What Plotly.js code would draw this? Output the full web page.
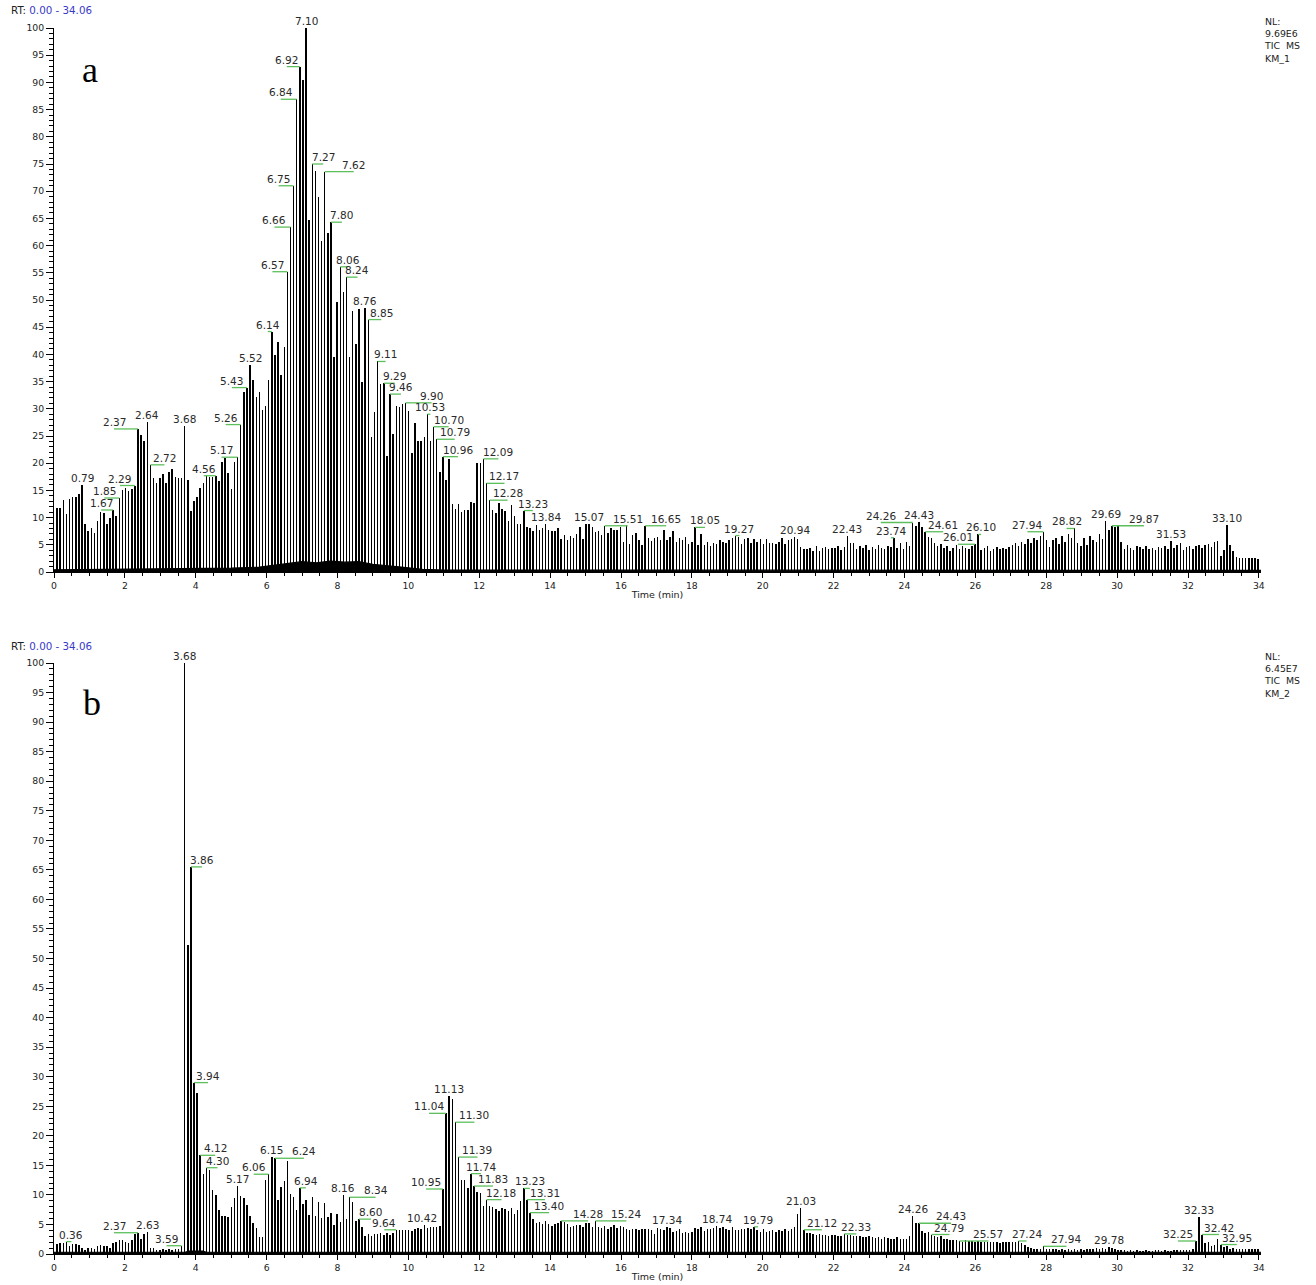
<!DOCTYPE html>
<html>
<head>
<meta charset="utf-8">
<script src="https://cdn.plot.ly/plotly-3.0.1.min.js"></script>
<style>html,body{margin:0;padding:0;background:#fff;}#chart{width:1316px;height:1285px;}</style>
</head>
<body>
<div id="chart"></div>
<script>
// ---------------- DATA ----------------
// Scan interval of the MS acquisition (min); scan k is acquired at k * SCAN_INTERVAL
const SCAN_INTERVAL = 0.0878;

// Relative abundance (%) of each scan, sample KM_1 (panel a)
const intensityA = [
 11.8,11.8,13.3,10.7,13.5,13.8,13.8,14.3,16.0,8.8,
 7.5,8.0,7.2,9.4,11.1,10.8,8.9,9.9,11.4,10.3,
 13.6,15.1,15.5,14.8,15.3,15.9,26.3,25.2,24.0,27.6,
 19.7,17.3,16.4,17.3,18.0,16.4,18.4,18.9,17.4,17.3,
 17.3,26.9,17.0,11.2,13.1,13.7,15.5,16.4,17.6,17.5,
 17.5,17.7,16.7,20.2,20.9,18.2,15.3,20.2,21.1,27.1,
 33.1,33.9,38.1,35.3,32.1,33.1,29.7,30.5,35.3,44.2,
 39.9,42.3,36.2,41.4,55.2,63.4,71.0,86.9,92.9,90.4,
 100,64.7,75.0,73.8,69.0,60.9,73.6,62.3,64.3,39.5,
 49.6,56.1,51.4,54.2,39.5,48.0,42.0,48.3,35.0,48.5,
 46.4,24.8,29.5,38.7,34.6,34.7,21.3,32.7,25.4,30.5,
 30.4,30.8,31.1,29.6,21.8,27.3,24.0,24.1,24.8,29.0,
 24.1,26.7,24.4,18.3,21.2,16.9,20.8,12.5,11.5,12.5,
 11.1,11.4,11.4,12.9,12.7,20.0,20.1,20.8,16.3,13.2,
 11.4,10.8,12.6,11.6,11.3,9.4,12.4,10.3,8.9,8.9,
 11.3,8.2,8.0,7.6,8.6,7.8,8.0,8.9,7.7,7.6,
 7.6,8.0,6.0,6.8,5.9,6.6,6.2,7.0,8.3,6.0,
 8.8,8.8,8.3,7.4,7.6,6.8,8.5,7.1,8.0,7.8,
 7.7,8.2,5.6,8.6,5.2,6.8,7.2,5.9,4.9,8.5,
 6.3,5.7,6.2,6.4,5.8,7.7,5.9,6.4,7.6,5.5,
 6.2,5.8,6.5,5.1,5.6,8.2,5.0,6.9,5.0,5.5,
 4.8,5.3,5.2,5.9,5.6,5.4,5.9,6.2,6.7,6.4,
 5.2,6.1,6.3,5.4,6.0,5.6,6.1,5.2,6.0,5.3,
 5.4,5.2,5.6,6.2,5.1,5.8,6.1,6.5,6.0,4.6,
 4.3,4.2,4.5,3.9,4.7,3.8,4.4,4.6,4.2,4.5,
 4.4,4.8,4.0,4.6,6.6,5.3,5.3,4.2,4.8,4.5,
 5.0,4.1,4.6,4.3,5.0,4.4,4.2,4.8,4.6,6.3,
 4.5,5.4,4.3,5.5,4.8,9.1,8.4,9.2,8.3,7.4,
 6.4,6.2,5.4,4.7,5.2,4.4,4.8,3.9,4.5,4.9,
 4.2,4.7,4.5,4.3,4.7,5.1,6.9,4.0,4.4,4.8,
 3.9,4.3,4.6,4.2,4.4,4.3,4.6,4.9,5.3,4.8,
 5.6,5.1,6.1,5.4,6.3,5.8,6.6,7.4,5.9,4.6,
 5.8,6.3,5.1,6.6,5.6,7.0,6.2,8.0,5.4,4.7,
 6.2,5.0,6.6,5.9,5.5,6.9,6.1,9.4,7.8,8.5,
 8.3,8.5,5.6,4.3,4.9,4.4,4.1,4.7,4.6,4.2,
 4.7,4.3,4.5,4.1,4.6,4.5,4.7,4.2,5.7,4.4,
 4.9,5.3,4.1,4.6,4.8,4.2,4.7,5.0,4.4,5.0,
 5.2,4.6,5.5,5.7,3.0,4.0,8.7,5.0,3.9,2.7,
 2.6,2.6,2.5,2.6,2.5,2.6,2.4
];

// Relative abundance (%) of each scan, sample KM_2 (panel b)
const intensityB = [
 1.7,1.9,1.9,2.1,1.4,1.7,1.7,1.6,1.1,0.7,
 1.0,1.1,0.9,1.4,1.6,1.4,1.4,1.1,1.8,2.1,
 2.3,2.3,2.1,1.8,2.4,3.4,3.6,2.5,3.4,3.8,
 1.1,1.0,0.7,0.7,0.8,0.7,0.8,0.7,0.8,0.9,
 1.4,100,52.3,65.5,29.0,27.3,16.7,13.5,14.6,14.2,
 10.9,9.9,7.4,6.5,6.5,6.2,8.0,9.4,11.5,9.8,
 9.4,8.3,6.5,5.2,4.4,2.9,2.8,12.6,13.5,16.4,
 16.2,9.2,11.3,12.3,15.8,10.1,9.7,7.4,11.2,8.4,
 9.1,6.6,9.6,6.5,8.8,6.1,8.7,6.2,7.0,4.9,
 6.7,5.5,10.0,6.0,9.6,8.8,5.6,5.9,4.5,3.0,
 3.4,3.1,3.4,3.4,3.6,3.2,3.6,3.3,3.6,4.1,
 4.1,4.0,4.1,4.0,3.9,4.3,4.4,4.3,4.9,4.4,
 4.5,4.6,4.6,4.7,11.0,23.8,26.8,26.3,22.3,16.4,
 12.6,12.6,11.1,13.6,11.5,10.5,10.3,8.1,9.2,8.1,
 7.9,7.6,7.3,7.7,7.6,7.3,7.7,6.8,7.4,9.0,
 11.1,9.2,7.0,5.9,5.3,5.5,5.1,5.6,5.1,4.7,
 5.1,5.3,5.6,5.5,5.1,4.6,4.7,4.9,4.9,4.6,
 5.2,5.2,4.6,5.6,4.6,4.4,4.7,4.3,4.5,4.9,
 4.4,4.7,4.6,4.2,4.1,4.3,4.2,4.1,4.3,4.2,
 4.2,4.1,3.4,4.4,4.2,4.1,4.6,4.4,3.8,3.9,
 4.2,3.5,3.8,3.5,3.7,4.4,4.2,4.5,3.9,4.2,
 4.3,4.4,4.7,4.4,4.5,4.3,4.0,4.5,4.1,4.1,
 4.2,4.3,4.4,4.3,4.6,4.1,3.8,4.2,3.7,3.9,
 4.1,3.8,4.0,3.9,4.2,3.9,4.2,4.6,6.8,7.8,
 4.1,3.6,3.5,3.4,3.3,3.4,3.2,3.3,3.1,3.2,
 3.2,3.0,3.1,3.4,3.3,3.2,3.1,3.0,3.0,2.9,
 2.8,3.0,2.8,2.7,2.9,2.6,2.8,2.7,2.6,2.5,
 2.8,2.6,2.5,2.6,3.0,6.4,5.3,5.2,3.9,3.6,
 3.7,3.3,3.0,2.9,3.0,2.6,2.5,2.4,2.3,2.4,
 2.2,2.1,2.3,2.2,2.2,2.1,2.2,2.1,2.0,2.1,
 2.0,2.1,2.0,1.9,2.0,2.1,2.0,2.1,2.0,2.2,
 1.8,1.5,1.2,1.0,0.9,0.8,0.9,1.3,0.9,0.8,
 0.9,0.8,0.7,0.8,0.7,0.8,0.7,0.8,0.7,0.8,
 0.7,0.9,0.8,0.9,1.0,0.9,1.0,0.9,1.2,1.0,
 0.8,0.7,0.6,0.6,0.5,0.6,0.5,0.6,0.5,0.5,
 0.6,0.5,0.5,0.6,0.7,0.5,0.6,0.5,0.5,0.6,
 0.7,0.6,0.7,0.6,0.7,0.9,2.2,6.3,3.3,1.9,
 2.0,1.4,1.6,2.5,1.6,1.2,1.4,0.9,1.0,0.8,
 0.9,0.8,0.9,0.8,0.9,0.8,0.8
];

// Baseline (noise floor) between scans
const baseTimesA = [0, 2, 4, 5, 5.8, 6.2, 6.6, 7.0, 7.4, 7.8, 8.2, 8.6, 9.0, 9.4, 9.8, 10.4, 11, 34.06];
const baseLevelA = [0.4, 0.5, 0.6, 0.7, 0.9, 1.2, 1.6, 1.9, 1.7, 2.0, 1.8, 1.9, 1.4, 1.1, 0.9, 0.5, 0.35, 0.3];
const baseTimesB = [0, 3.7, 3.8, 4.2, 4.3, 34.06];
const baseLevelB = [0.3, 0.3, 0.5, 0.5, 0.3, 0.3];

// Labelled retention times (min)
const labelTimesA = [0.79,1.67,1.85,2.29,2.37,2.64,2.72,3.68,4.56,5.17,5.26,5.43,5.52,6.14,6.57,6.66,6.75,6.84,6.92,7.10,7.27,7.62,7.80,8.06,8.24,8.76,8.85,9.11,9.29,9.46,9.90,10.53,10.70,10.79,10.96,12.09,12.17,12.28,13.23,13.84,15.07,15.51,16.65,18.05,19.27,20.94,22.43,23.74,24.26,24.43,24.61,26.01,26.10,27.94,28.82,29.69,29.87,31.53,33.10];
const labelTimesB = [0.36,2.37,2.63,3.59,3.68,3.86,3.94,4.12,4.30,5.17,6.06,6.15,6.24,6.94,8.16,8.34,8.60,9.64,10.42,10.95,11.04,11.13,11.30,11.39,11.74,11.83,12.18,13.23,13.31,13.40,14.28,15.24,17.34,18.74,19.79,21.03,21.12,22.33,24.26,24.43,24.79,25.57,27.24,27.94,29.78,32.25,32.33,32.42,32.95];

// Header texts
const rtRange = "0.00 - 34.06";
const nlA = ["NL:", "9.69E6", "TIC  MS", "KM_1"];
const nlB = ["NL:", "6.45E7", "TIC  MS", "KM_2"];

// ---------------- LAYOUT HELPERS (label offsets in px, not data) ----------------
const labelShiftA = [0,-12,-15,-15,-24,0,14,0,-12,-16,-15,-15,0,-4,-15,-16,-15,-16,-13,0,11,29,11,8,11,0,13,8,11,11,26,3,15,18,15,15,18,18,9,0,0,23,21,10,4,0,0,-3,-32,0,18,-17,3,-16,-8,0,32,0,0];
const labelShiftB = [5,-24,0,-15,0,11,14,15,11,0,-15,0,29,6,0,26,12,-12,-2,-17,-17,0,19,19,10,19,15,6,18,19,27,31,0,0,4,0,18,12,0,32,18,29,8,23,0,-18,0,17,16];

const scanTimesA = intensityA.map((_, i) => (i + 1) * SCAN_INTERVAL);
const scanTimesB = intensityB.map((_, i) => (i + 1) * SCAN_INTERVAL);

const FONT = 'DejaVu Sans, Liberation Sans, Arial, sans-serif';
const GREEN = '#5cbf5c';

const traces = [
  {type:'bar', x:scanTimesA, y:intensityA, width:0.042, marker:{color:'#000', line:{width:0}}, xaxis:'x', yaxis:'y', hoverinfo:'skip'},
  {type:'scatter', mode:'lines', x:baseTimesA, y:baseLevelA, fill:'tozeroy', fillcolor:'#000', line:{color:'#000', width:1.2}, xaxis:'x', yaxis:'y', hoverinfo:'skip'},
  {type:'bar', x:scanTimesB, y:intensityB, width:0.042, marker:{color:'#000', line:{width:0}}, xaxis:'x2', yaxis:'y2', hoverinfo:'skip'},
  {type:'scatter', mode:'lines', x:baseTimesB, y:baseLevelB, fill:'tozeroy', fillcolor:'#000', line:{color:'#000', width:1.2}, xaxis:'x2', yaxis:'y2', hoverinfo:'skip'}
];

const annotations = [];
const shapes = [];

function addPeakLabels(times, shifts, heights, xref, yref) {
  times.forEach((t, j) => {
    const k = Math.round(t / SCAN_INTERVAL);
    const xs = k * SCAN_INTERVAL;
    const v = heights[k - 1];
    const dx = shifts[j];
    annotations.push({
      x: xs, y: v, xref: xref, yref: yref, text: t.toFixed(2), showarrow: false,
      xanchor: 'center', yanchor: 'bottom', xshift: dx, yshift: -1,
      font: {family: FONT, size: 10.5, color: '#2a2a2a'}
    });
    if (Math.abs(dx) >= 3) {
      shapes.push({type:'line', xref: xref, yref: yref, xsizemode:'pixel', xanchor: xs, x0: 0, x1: dx,
        y0: v, y1: v, line: {color: GREEN, width: 1.3}});
    }
  });
}
addPeakLabels(labelTimesA, labelShiftA, intensityA, 'x', 'y');
addPeakLabels(labelTimesB, labelShiftB, intensityB, 'x2', 'y2');

// pixel -> paper helpers for header annotations
const L = 54, R = 55, T = 28, B = 31, W = 1316, H = 1285;
const pw = W - L - R, ph = H - T - B;
const px = v => (v - L) / pw;
const py = v => (H - B - v) / ph;

const rtText = 'RT: <span style="color:#3a3ac8">' + rtRange + '</span>';
annotations.push({xref:'paper', yref:'paper', x:px(9), y:py(10), xanchor:'left', yanchor:'middle', showarrow:false, text:rtText, font:{family:FONT, size:10.3, color:'#222'}});
annotations.push({xref:'paper', yref:'paper', x:px(9), y:py(646), xanchor:'left', yanchor:'middle', showarrow:false, text:rtText, font:{family:FONT, size:10.3, color:'#222'}});
annotations.push({xref:'paper', yref:'paper', x:px(1262), y:py(14), xanchor:'left', yanchor:'top', align:'left', showarrow:false, text:nlA.join('<br>'), font:{family:FONT, size:9.4, color:'#222'}});
annotations.push({xref:'paper', yref:'paper', x:px(1262), y:py(649), xanchor:'left', yanchor:'top', align:'left', showarrow:false, text:nlB.join('<br>'), font:{family:FONT, size:9.4, color:'#222'}});
annotations.push({xref:'paper', yref:'paper', x:px(90), y:py(70), xanchor:'center', yanchor:'middle', showarrow:false, text:'a', font:{family:'Liberation Serif, Times New Roman, serif', size:36, color:'#000'}});
annotations.push({xref:'paper', yref:'paper', x:px(92), y:py(703), xanchor:'center', yanchor:'middle', showarrow:false, text:'b', font:{family:'Liberation Serif, Times New Roman, serif', size:36, color:'#000'}});

function xAxis(anchor) {
  return {
    anchor: anchor, domain: [0, 1], range: [0, 34.06], tickmode: 'linear', tick0: 0, dtick: 2,
    ticks: 'outside', ticklen: 5, tickwidth: 1, tickcolor: '#000',
    minor: {tickmode:'linear', tick0:0, dtick: 0.5, ticks: 'outside', ticklen: 3, tickwidth: 1, tickcolor: '#000'},
    showline: true, linecolor: '#000', linewidth: 1, showgrid: false, zeroline: false,
    tickfont: {family: FONT, size: 9.3, color: '#222'},
    title: {text: 'Time (min)', font: {family: FONT, size: 9.5, color: '#222'}, standoff: 1},
    fixedrange: true
  };
}
function yAxis(anchor, domain) {
  return {
    anchor: anchor, domain: domain, range: [0, 100], tickmode: 'linear', tick0: 0, dtick: 5,
    ticks: 'outside', ticklen: 7, tickwidth: 1, tickcolor: '#000',
    minor: {tickmode:'linear', tick0:0, dtick: 1, ticks: 'outside', ticklen: 4, tickwidth: 1, tickcolor: '#000'},
    showline: true, linecolor: '#000', linewidth: 1, showgrid: false, zeroline: false,
    tickfont: {family: FONT, size: 9.3, color: '#222'}, fixedrange: true
  };
}

const layout = {
  width: W, height: H,
  margin: {l: L, r: R, t: T, b: B, pad: 0},
  paper_bgcolor: '#fff', plot_bgcolor: '#fff',
  showlegend: false, bargap: 0,
  xaxis: xAxis('y'),
  yaxis: yAxis('x', [py(572), 1]),
  xaxis2: xAxis('y2'),
  yaxis2: yAxis('x2', [0, py(663)]),
  annotations: annotations,
  shapes: shapes
};

Plotly.newPlot('chart', traces, layout, {displayModeBar: false, staticPlot: true});
</script>
</body>
</html>
